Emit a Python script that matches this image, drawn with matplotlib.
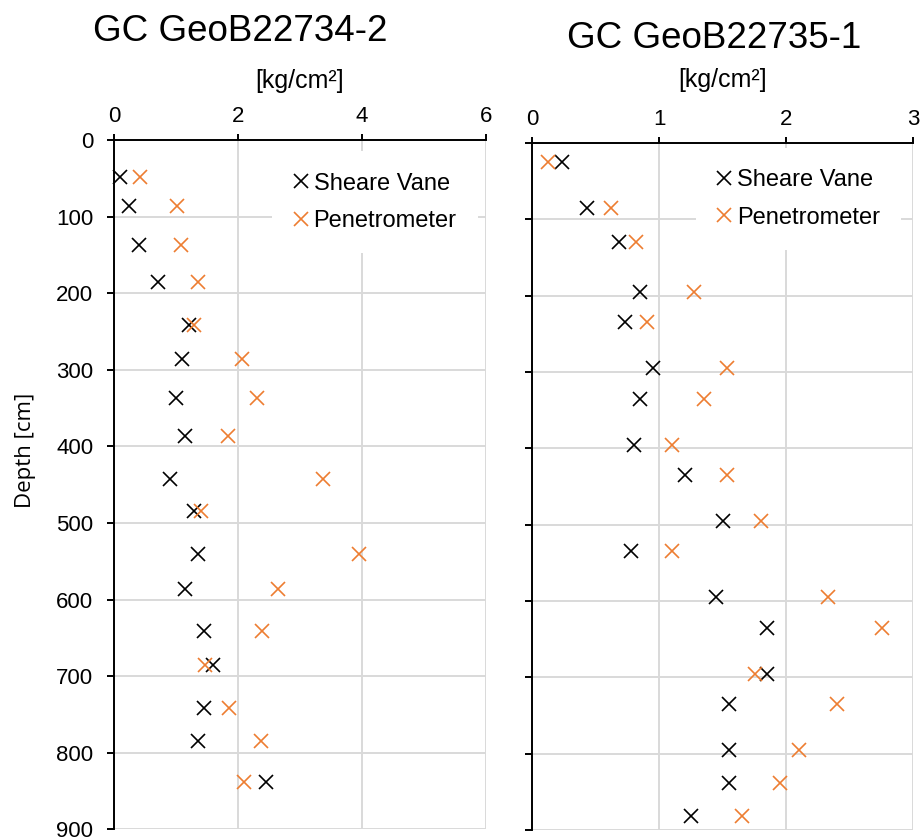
import matplotlib
matplotlib.use('Agg')
from matplotlib import pyplot as plt

plt.rcParams['font.family'] = ['Liberation Sans', 'DejaVu Sans']

# GeoB22734-2 : depth [cm] and strength [kg/cm2]
depth_34 = [48, 86, 137, 186, 241, 286, 337, 386, 442, 485, 540, 586, 641, 686, 741, 785, 838]
vane_34 = [0.09, 0.24, 0.40, 0.70, 1.21, 1.10, 1.00, 1.15, 0.90, 1.29, 1.35, 1.15, 1.45, 1.60, 1.45, 1.35, 2.45]
pen_34 = [0.42, 1.02, 1.07, 1.36, 1.29, 2.07, 2.30, 1.83, 3.37, 1.40, 3.96, 2.65, 2.39, 1.47, 1.85, 2.37, 2.10]

# GeoB22735-1
depth_35 = [25, 85, 130, 195, 235, 295, 335, 395, 435, 495, 535, 595, 635, 695, 735, 795, 839, 882]
vane_35 = [0.23, 0.43, 0.68, 0.85, 0.73, 0.95, 0.85, 0.80, 1.20, 1.50, 0.78, 1.45, 1.85, 1.85, 1.55, 1.55, 1.55, 1.25]
pen_35 = [0.12, 0.62, 0.82, 1.27, 0.90, 1.53, 1.35, 1.10, 1.53, 1.80, 1.10, 2.33, 2.75, 1.75, 2.40, 2.10, 1.95, 1.65]

depth_ticks = [0, 100, 200, 300, 400, 500, 600, 700, 800, 900]
orange = '#ED7D31'
grid_col = '#D9D9D9'


def setup_axes(ax, xmax, xstep, show_ylabels, xlabpad):
    ax.set_xlim(0, xmax)
    ax.set_ylim(900, 0)
    ax.set_xticks(range(0, xmax + 1, xstep))
    ax.set_yticks(depth_ticks)
    ax.xaxis.tick_top()
    ax.xaxis.set_label_position('top')
    ax.grid(True, color=grid_col, linewidth=1.4)
    ax.set_axisbelow(True)
    for s in ['right', 'bottom']:
        ax.spines[s].set_visible(False)
    for s in ['top', 'left']:
        ax.spines[s].set_linewidth(1.4)
        ax.spines[s].set_zorder(3)
    ax.tick_params(axis='x', direction='out', length=4.5, width=1.4, pad=5, labelsize=16)
    ax.tick_params(axis='y', direction='out', length=5, width=1.4, pad=10, labelsize=16,
                   labelleft=show_ylabels)
    ax.set_xlabel('[kg/cm²]', fontsize=18, labelpad=xlabpad)


def draw(ax, depth, vane, pen):
    ax.plot(vane, depth, 'x', color='black', markersize=10, mew=1.2,
            label='Sheare Vane', clip_on=False, zorder=4)
    ax.plot(pen, depth, 'x', color=orange, markersize=10, mew=1.2,
            label='Penetrometer', clip_on=False, zorder=4)


fig = plt.figure(figsize=(9.23, 8.4), dpi=100)
ax1 = fig.add_axes([0.1238, 0.0127, 0.4024, 0.8206])
ax2 = fig.add_axes([0.5767, 0.0119, 0.4128, 0.8179])

setup_axes(ax1, 6, 2, True, 13)
setup_axes(ax2, 3, 1, False, 16)
draw(ax1, depth_34, vane_34, pen_34)
draw(ax2, depth_35, vane_35, pen_35)

ax1.set_ylabel('Depth [cm]', fontsize=16, family=['Open Sans', 'DejaVu Sans'])
ax1.yaxis.set_label_coords(-0.212, 0.55)

ax1.text(0.34, 1.158, 'GC GeoB22734-2', transform=ax1.transAxes,
         ha='center', va='center', fontsize=26.5)
ax2.text(0.477, 1.152, 'GC GeoB22735-1', transform=ax2.transAxes,
         ha='center', va='center', fontsize=26.5)

for ax, anchor in [(ax1, (0.4254, 0.9835)), (ax2, (0.4294, 0.9927))]:
    leg = ax.legend(loc='upper left', bbox_to_anchor=anchor, fontsize=17,
                    handlelength=0.6, handletextpad=0.25, borderpad=0.9,
                    borderaxespad=0, labelspacing=0.65, frameon=True,
                    fancybox=False, edgecolor='none', facecolor='white', framealpha=1)

fig.savefig('out.png', dpi=100)
